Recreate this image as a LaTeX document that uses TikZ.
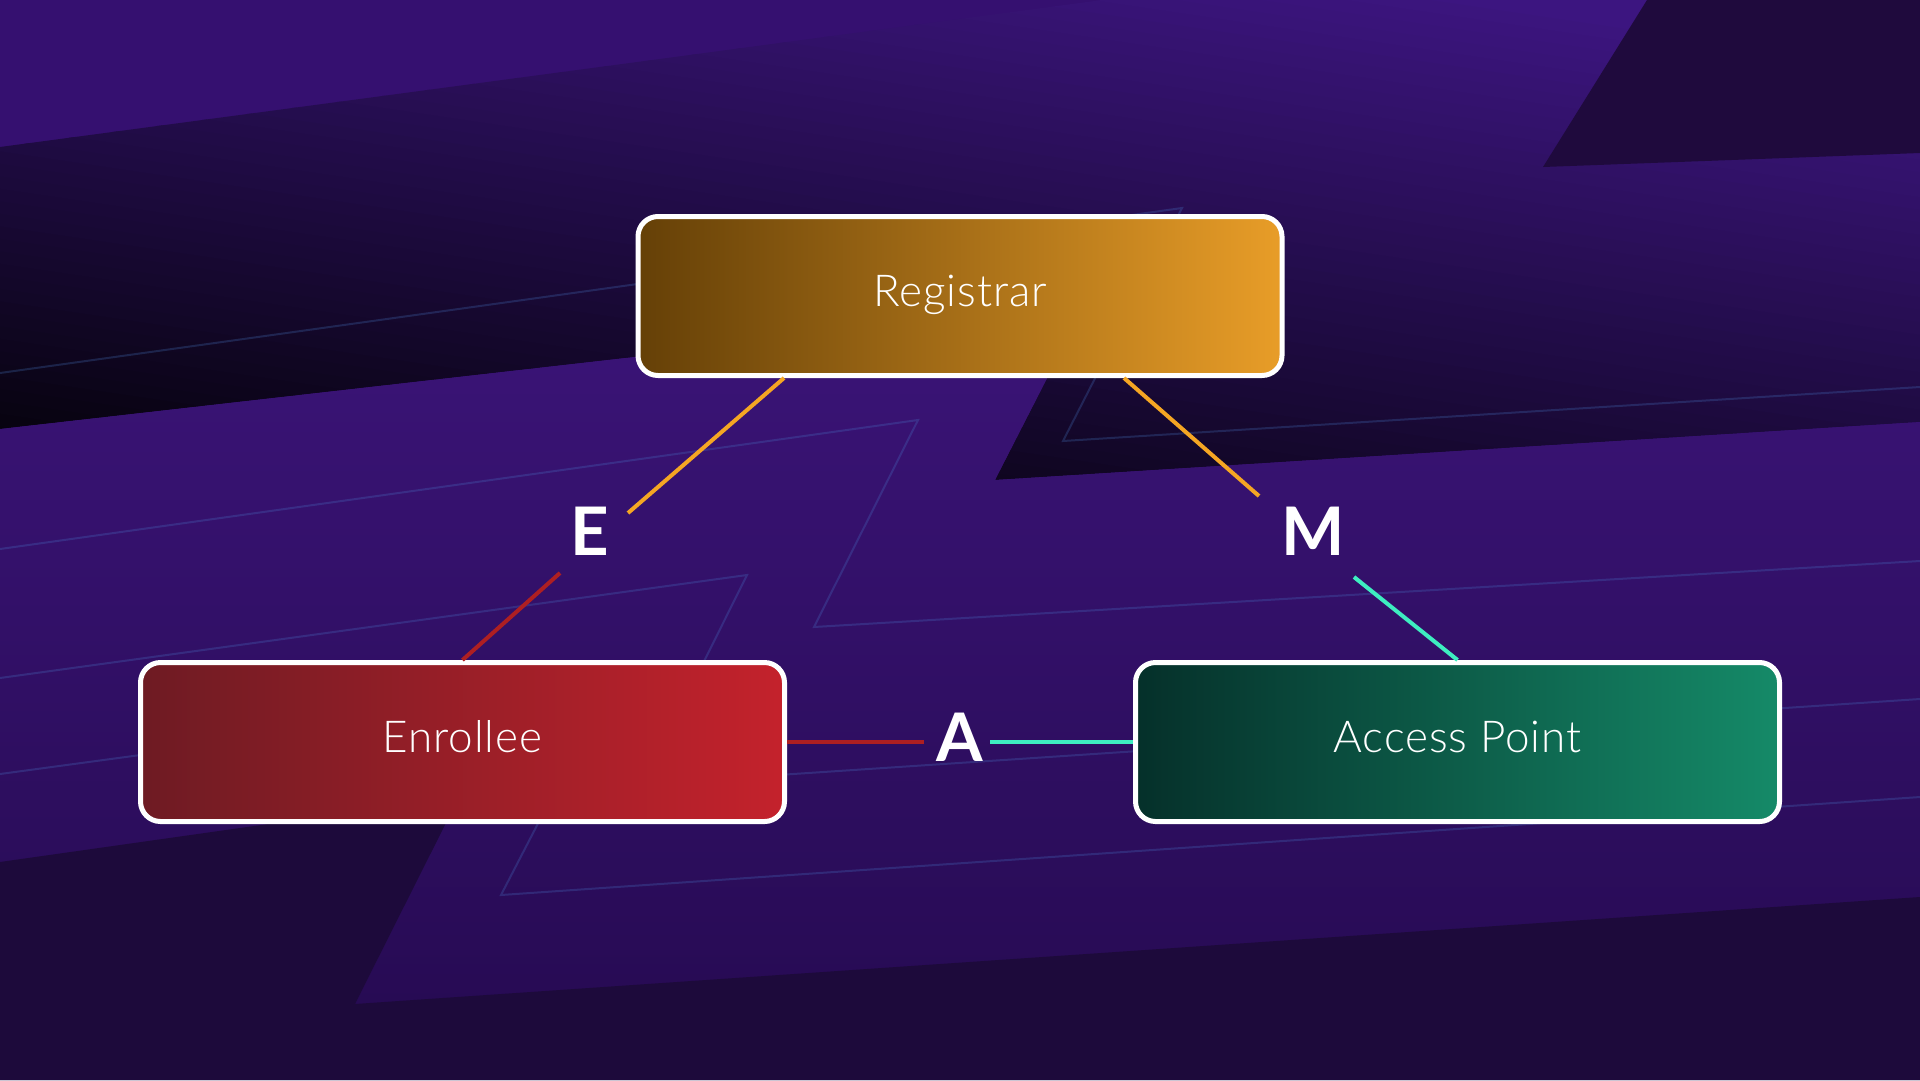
\documentclass[tikz,border=0pt]{standalone}
\usepackage{fontspec}
\newfontfamily\lightfont{Lato Light}[LetterSpace=2]
\newfontfamily\labelfont{Lato}
\usetikzlibrary{calc}

\definecolor{bgbase}{HTML}{351070}
\definecolor{bandlight}{HTML}{3C1580}
\definecolor{banddark}{HTML}{07030F}
\definecolor{lowtop}{HTML}{3B1478}
\definecolor{lowbot}{HTML}{250A50}
\definecolor{trdark}{HTML}{1F0A3D}
\definecolor{botdark}{HTML}{1D0A3B}
\definecolor{outlc}{HTML}{4A7FD0}
\definecolor{regL}{HTML}{654007}
\definecolor{regR}{HTML}{E89D28}
\definecolor{enrL}{HTML}{6E1B23}
\definecolor{enrR}{HTML}{C4222C}
\definecolor{apL}{HTML}{05302A}
\definecolor{apR}{HTML}{158A68}
\definecolor{lnorange}{HTML}{F5A623}
\definecolor{lnred}{HTML}{AE1F22}
\definecolor{lnteal}{HTML}{3EEEC0}

\tikzset{
  outl/.style={draw=outlc, draw opacity=0.25, line width=2pt},
  box/.style={draw=white, line width=5pt, rounded corners=20pt,
    minimum width=644pt, minimum height=159pt, inner sep=0pt,
    font=\lightfont\fontsize{44}{44}\selectfont, text=white,
    text height=20pt, text depth=0pt},
  lbl/.style={font=\labelfont\bfseries\fontsize{67}{67}\selectfont,
    text=white, inner sep=0pt},
  conn/.style={line width=4pt}
}

\begin{document}
\begin{tikzpicture}[x=1pt,y=-1pt]
\useasboundingbox (0,0) rectangle (1920,1080);
% background
\fill[bgbase] (0,0) rectangle (1920,1080);
% dark band with a diagonal gradient built from thin strips
\begin{scope}
  \clip (0,147) -- (1102,0) -- (1920,0) -- (1920,422) -- (995,480) -- (1084,306) -- (0,429) -- cycle;
  \foreach \k in {0,...,64} {
    \pgfmathsetmacro\yy{-300+12.5*\k}
    \pgfmathsetmacro\tt{max(0,min(100,(35-0.0813*(\yy+6))/53*100))}
    \fill[bandlight!\tt!banddark] (-10,\yy) -- (1930,\yy+286.4) -- (1930,\yy+300) -- (-10,\yy+13.6) -- cycle;
  }
\end{scope}
\fill[trdark] (1647,0) -- (1920,0) -- (1920,153) -- (1543,167) -- cycle;
\shade[top color=lowtop, bottom color=lowbot]
  (0,429) -- (1084,306) -- (995,480) -- (1920,422) -- (1920,1080) -- (0,1080) -- cycle;
\fill[botdark] (0,862) -- (459,797) -- (355,1004) -- (1920,897) -- (1920,1080) -- (0,1080) -- cycle;
% outline zigzags
\draw[outl] (0,373) -- (1182,208) -- (1063,441) -- (1920,387);
\draw[outl] (0,549) -- (918,420) -- (814,627) -- (1920,561);
\draw[outl] (0,678) -- (747,575) -- (643,784) -- (1920,699);
\draw[outl] (0,774) -- (606,692) -- (501,895) -- (1920,797);

% boxes
\node[box, left color=regL, right color=regR] (reg) at (960,296) {Registrar};
\node[box, left color=enrL, right color=enrR] (enr) at (462.5,742) {Enrollee};
\node[box, left color=apL, right color=apR] (ap) at (1457.5,742) {Access Point};

% labels
\node[lbl] (E) at (590,531) {E};
\node[lbl] (M) at (1313,531) {M};
\node[lbl] (A) at (960,737.5) {A};

\coordinate (Etop) at ($(E.center)+(38,-18)$);
\coordinate (Ebot) at ($(E.center)+(-30,42)$);
\coordinate (Mtop) at ($(M.center)+(-54,-35)$);
\coordinate (Mbot) at ($(M.center)+(41,46)$);
\coordinate (Aleft) at ($(A.center)+(-36,4.5)$);
\coordinate (Aright) at ($(A.center)+(30,4.5)$);

% connectors
\draw[conn, lnorange] ([xshift=-176pt]reg.south) -- (Etop);
\draw[conn, lnorange] ([xshift=164pt]reg.south) -- (Mtop);
\draw[conn, lnred] (Ebot) -- (enr.north);
\draw[conn, lnteal] (Mbot) -- (ap.north);
\draw[conn, lnred] (enr.east) -- (Aleft);
\draw[conn, lnteal] (Aright) -- (ap.west);
\end{tikzpicture}
\end{document}
